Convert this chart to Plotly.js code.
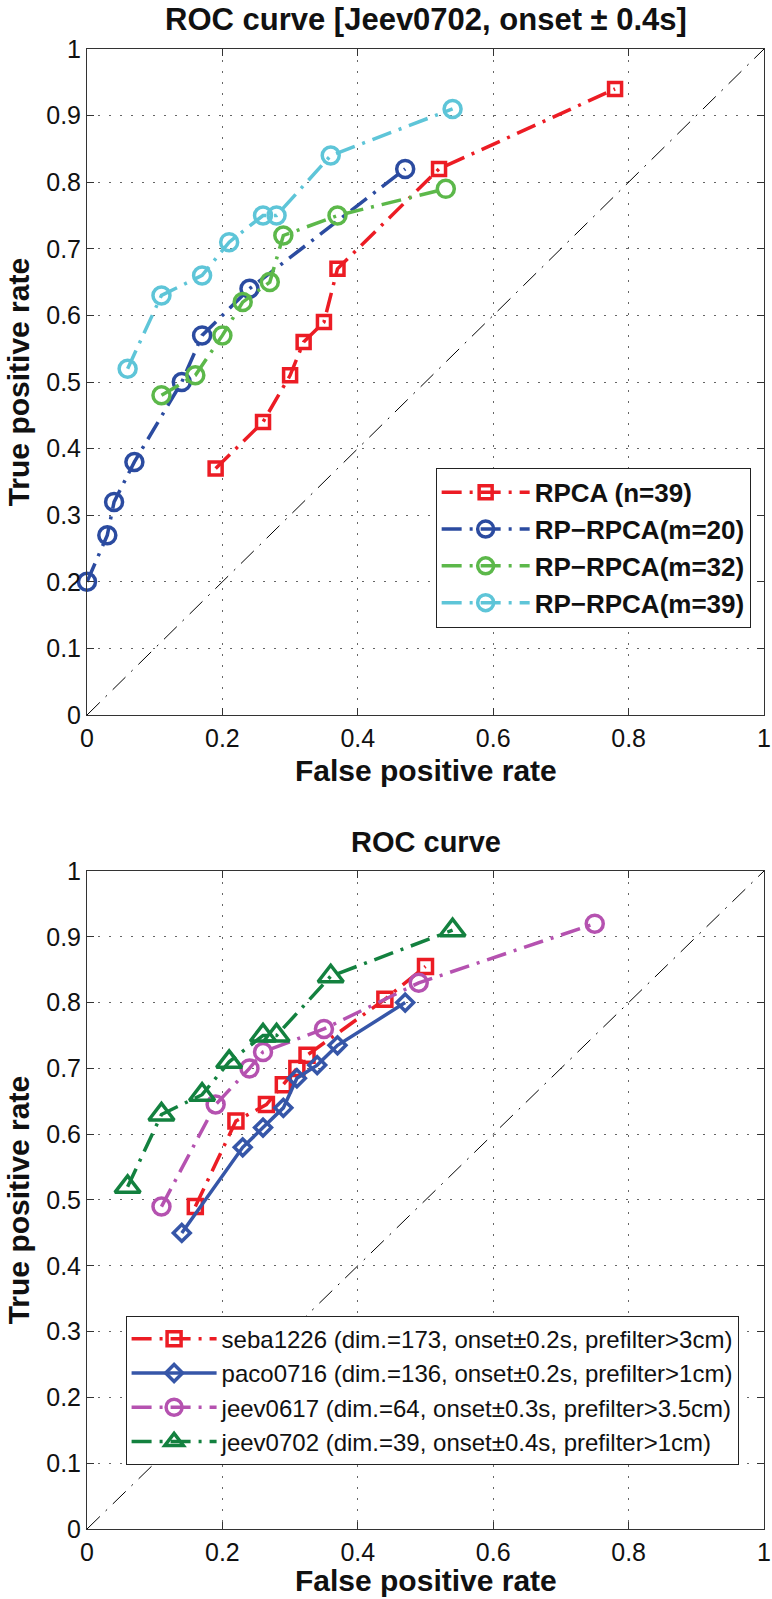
<!DOCTYPE html>
<html>
<head>
<meta charset="utf-8">
<script src="https://cdn.plot.ly/plotly-3.0.1.min.js"></script>
<style>
  body { margin: 0; background: #fff; }
  #id_plotly_1 { width: 772px; height: 1599px; }
</style>
</head>
<body>
<div id="id_plotly_1"></div>
<script>
// 上のグラフ: Jeev0702, onset ± 0.4s
let rpcaX = [0.19, 0.26, 0.30, 0.32, 0.35, 0.37, 0.52, 0.78];
let rpcaY = [0.37, 0.44, 0.51, 0.56, 0.59, 0.67, 0.82, 0.94];
let m20X = [0, 0.03, 0.04, 0.07, 0.14, 0.17, 0.24, 0.47];
let m20Y = [0.20, 0.27, 0.32, 0.38, 0.50, 0.57, 0.64, 0.82];
let m32X = [0.11, 0.16, 0.20, 0.23, 0.27, 0.29, 0.37, 0.53];
let m32Y = [0.48, 0.51, 0.57, 0.62, 0.65, 0.72, 0.75, 0.79];
let m39X = [0.06, 0.11, 0.17, 0.21, 0.26, 0.28, 0.36, 0.54];
let m39Y = [0.52, 0.63, 0.66, 0.71, 0.75, 0.75, 0.84, 0.91];

// 下のグラフ: データセット別
let sebaX = [0.16, 0.22, 0.265, 0.29, 0.31, 0.325, 0.44, 0.50];
let sebaY = [0.49, 0.62, 0.645, 0.675, 0.70, 0.72, 0.805, 0.855];
let pacoX = [0.14, 0.23, 0.26, 0.29, 0.31, 0.34, 0.37, 0.47];
let pacoY = [0.45, 0.58, 0.61, 0.64, 0.685, 0.705, 0.735, 0.80];
let j0617X = [0.11, 0.19, 0.24, 0.26, 0.35, 0.49, 0.75];
let j0617Y = [0.49, 0.645, 0.70, 0.725, 0.76, 0.83, 0.92];
let j0702X = [0.06, 0.11, 0.17, 0.21, 0.26, 0.28, 0.36, 0.54];
let j0702Y = [0.52, 0.63, 0.66, 0.71, 0.75, 0.75, 0.84, 0.91];

// 対角線（ランダム判定）
let chanceX = [0, 1];
let chanceY = [0, 1];

// 目盛り
let xTickVals = [0, 0.2, 0.4, 0.6, 0.8, 1];
let xTickText = ["0", "0.2", "0.4", "0.6", "0.8", "1"];
let yTickVals = [0, 0.1, 0.2, 0.3, 0.4, 0.5, 0.6, 0.7, 0.8, 0.9, 1];
let yTickText = ["0", "0.1", "0.2", "0.3", "0.4", "0.5", "0.6", "0.7", "0.8", "0.9", "1"];

let FONT = "Liberation Sans, Arial, Helvetica, sans-serif";
let DASHDOT = "20px,8px,3px,8px";

let red = "#ec1c24";
let blue = "#2b4ba0";
let green = "#5cb84a";
let cyan = "#5ec5d8";
let blue2 = "#3656a8";
let magenta = "#b552b0";
let dgreen = "#13813f";

function roc(x, y, name, color, symbol, size, dash, xa, ya, legend) {
    return {
        x: x,
        y: y,
        type: "scatter",
        mode: "lines+markers",
        name: name,
        xaxis: xa,
        yaxis: ya,
        legend: legend,
        cliponaxis: false,
        line: { color: color, width: 3.5, dash: dash },
        marker: { symbol: symbol, size: size, color: color, line: { color: color, width: 3.5 } },
    };
}

function diag(xa, ya) {
    return {
        x: chanceX,
        y: chanceY,
        type: "scatter",
        mode: "lines",
        xaxis: xa,
        yaxis: ya,
        showlegend: false,
        hoverinfo: "skip",
        line: { color: "#000", width: 1, dash: "18px,8px,2px,8px" },
    };
}

let data = [
    diag("x", "y"),
    roc(rpcaX, rpcaY, "<b>RPCA (n=39)</b>", red, "square-open", 13, DASHDOT, "x", "y", "legend"),
    roc(m20X, m20Y, "<b>RP\u2212RPCA(m=20)</b>", blue, "circle-open", 17, DASHDOT, "x", "y", "legend"),
    roc(m32X, m32Y, "<b>RP\u2212RPCA(m=32)</b>", green, "circle-open", 17, DASHDOT, "x", "y", "legend"),
    roc(m39X, m39Y, "<b>RP\u2212RPCA(m=39)</b>", cyan, "circle-open", 17, DASHDOT, "x", "y", "legend"),
    diag("x2", "y2"),
    roc(sebaX, sebaY, "seba1226 (dim.=173, onset\u00b10.2s, prefilter>3cm)", red, "square-open", 14, DASHDOT, "x2", "y2", "legend2"),
    roc(pacoX, pacoY, "paco0716 (dim.=136, onset\u00b10.2s, prefilter>1cm)", blue2, "diamond-open", 13, "solid", "x2", "y2", "legend2"),
    roc(j0617X, j0617Y, "jeev0617 (dim.=64, onset\u00b10.3s, prefilter>3.5cm)", magenta, "circle-open", 17, DASHDOT, "x2", "y2", "legend2"),
    roc(j0702X, j0702Y, "jeev0702 (dim.=39, onset\u00b10.4s, prefilter>1cm)", dgreen, "triangle-up-open", 22, DASHDOT, "x2", "y2", "legend2"),
];

function xAxis(anchor) {
    return {
        anchor: anchor,
        range: [0, 1],
        tickvals: xTickVals,
        ticktext: xTickText,
        ticks: "inside",
        ticklen: 7,
        tickcolor: "#333",
        showline: true,
        linecolor: "#333",
        linewidth: 1,
        mirror: "ticks",
        showgrid: true,
        gridcolor: "#666",
        griddash: "2px,9px",
        gridwidth: 1,
        zeroline: false,
        ticklabelstandoff: 1,
        ticklabeloverflow: "allow",
        tickfont: { family: FONT, size: 25, color: "#111" },
    };
}

function yAxis(anchor, domain) {
    let ax = xAxis(anchor);
    ax.domain = domain;
    ax.tickvals = yTickVals;
    ax.ticktext = yTickText;
    ax.ticklabelstandoff = 0;
    return ax;
}

function label(text, x, y, size, angle, yanchor) {
    return {
        text: "<b>" + text + "</b>",
        xref: "paper",
        yref: "paper",
        x: x,
        y: y,
        xanchor: "center",
        yanchor: yanchor || "middle",
        showarrow: false,
        textangle: angle,
        font: { family: FONT, size: size, color: "#111" },
    };
}

function legendBox(x, y, size, itemwidth) {
    return {
        x: x,
        y: y,
        xanchor: "left",
        yanchor: "top",
        bgcolor: "#fff",
        bordercolor: "#222",
        borderwidth: 1,
        itemwidth: itemwidth,
        font: { family: FONT, size: size, color: "#111" },
    };
}

let layout = {
    width: 772,
    height: 1599,
    margin: { l: 87, r: 8, t: 49, b: 70 },
    paper_bgcolor: "#fff",
    plot_bgcolor: "#fff",
    showlegend: true,
    xaxis: xAxis("y"),
    yaxis: yAxis("x", [0.55, 1]),
    xaxis2: xAxis("y2"),
    yaxis2: yAxis("x2", [0, 0.4446]),
    legend: legendBox(0.515, 0.717, 26, 88),
    legend2: legendBox(0.057, 0.1441, 24, 85),
    annotations: [
        label("ROC curve [Jeev0702, onset \u00b1 0.4s]", 0.5, 1.0328, 31, 0, "top"),
        label("False positive rate", 0.5, 0.5128, 30, 0),
        label("True positive rate", -0.1, 0.775, 30, -90),
        label("ROC curve", 0.5, 0.4642, 29, 0),
        label("False positive rate", 0.5, -0.0345, 30, 0),
        label("True positive rate", -0.1, 0.2223, 30, -90),
    ],
};

// グラフを描画する
Plotly.newPlot("id_plotly_1", data, layout, { displayModeBar: false, staticPlot: true });
</script>
</body>
</html>
